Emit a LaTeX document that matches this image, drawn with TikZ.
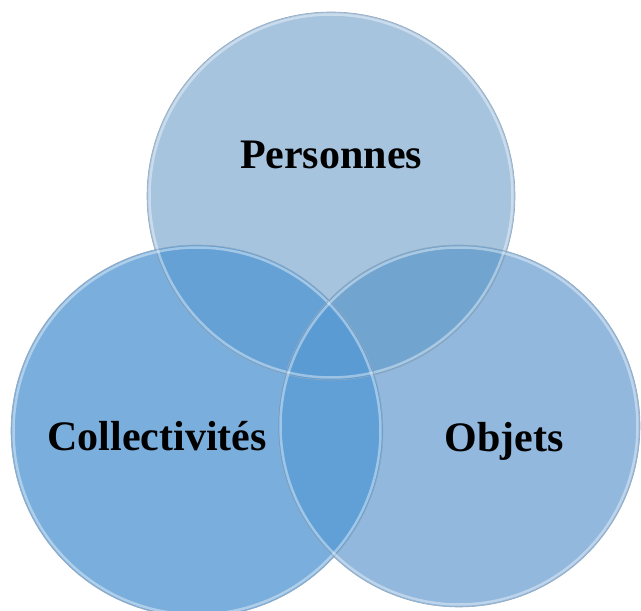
\documentclass[tikz,border=0pt]{standalone}
\usepackage{fontspec}
\setmainfont{Liberation Serif}
\usetikzlibrary{positioning}

\definecolor{topCol}{HTML}{A7C4DF}
\definecolor{leftCol}{HTML}{7AAEDC}
\definecolor{rightCol}{HTML}{92B8DD}
\definecolor{topLeftCol}{HTML}{65A1D4}
\definecolor{topRightCol}{HTML}{71A4CF}
\definecolor{leftRightCol}{HTML}{60A0D6}
\definecolor{allCol}{HTML}{5B9BD3}
\definecolor{rimCol}{HTML}{94A9BD}

\begin{document}
\begin{tikzpicture}
[x=1pt,y=1pt,
  circleDecorate/.style={shape=circle,inner sep=0pt,draw=none},%
  rimDecorate/.style={draw=rimCol,line width=0.6pt},%
  shineDecorate/.style={draw=white,line width=2.5pt,draw opacity=0.4},%
  labelDecorate/.style={anchor=base,font=\fontsize{42}{50}\selectfont\bfseries}]
\useasboundingbox (0,0) rectangle (641,611);
%% circles
\foreach \nodename/\x/\y/\r/\col in {
  pers/331/415/184/topCol, coll/197/180/186/leftCol, obj/459/185/181/rightCol}
{
  \node (\nodename) at (\x,\y) [circleDecorate,minimum size=2*\r,fill=\col] {};
}
%% overlaps
\begin{scope}
  \clip (pers.center) circle[radius=184];
  \fill[topLeftCol] (coll.center) circle[radius=186];
  \fill[topRightCol] (obj.center) circle[radius=181];
\end{scope}
\begin{scope}
  \clip (coll.center) circle[radius=186];
  \fill[leftRightCol] (obj.center) circle[radius=181];
  \clip (pers.center) circle[radius=184];
  \fill[allCol] (obj.center) circle[radius=181];
\end{scope}
%% rims
\foreach \nodename/\r in {pers/184, coll/186, obj/181}
{
  \draw[shineDecorate] (\nodename.center) circle[radius=\r-2.5];
  \draw[rimDecorate] (\nodename.center) circle[radius=\r];
}
%% labels
\node[labelDecorate] (persLabel) at (331,442) {Personnes};
\node[labelDecorate] (collLabel) at (157,160) {Collectivités};
\node[labelDecorate] (objLabel) at (504,159) {Objets};
\end{tikzpicture}
\end{document}
